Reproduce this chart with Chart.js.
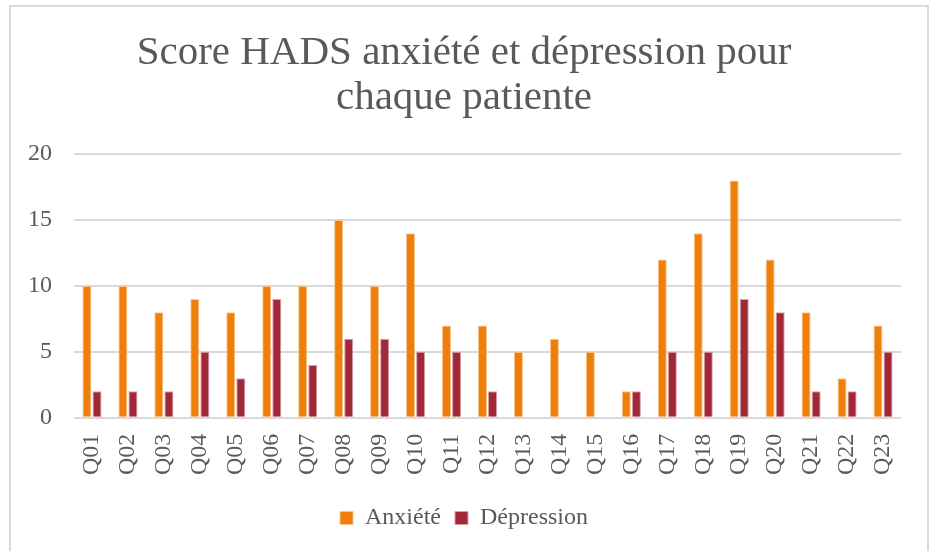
<!DOCTYPE html>
<html>
<head>
<meta charset="utf-8">
<script src="https://cdn.jsdelivr.net/npm/chart.js@4/dist/chart.umd.min.js"></script>
<style>
  html, body { margin: 0; padding: 0; background: #fff; }
  #frame {
    position: absolute;
    left: 9px; top: 5px;
    width: 920px; height: 560px;
    border: 2px solid #d9d9d9;
    box-sizing: border-box;
  }
  #wrap { position: absolute; left: 0; top: 0; width: 916px; height: 545px; }
</style>
</head>
<body>
<div id="frame"><div id="wrap"><canvas id="hadsChart"></canvas></div></div>
<script>
// patient labels and HADS scores
const patients = ["Q01","Q02","Q03","Q04","Q05","Q06","Q07","Q08","Q09","Q10","Q11","Q12",
  "Q13","Q14","Q15","Q16","Q17","Q18","Q19","Q20","Q21","Q22","Q23"];
const anxiete = [10, 10, 8, 9, 8, 10, 10, 15, 10, 14, 7, 7, 5, 6, 5, 2, 12, 14, 18, 12, 8, 3, 7];
const depression = [2, 2, 2, 5, 3, 9, 4, 6, 6, 5, 5, 2, 0, 0, 0, 2, 5, 5, 9, 8, 2, 2, 5];
const yTicks = [0, 5, 10, 15, 20];

const serif = "'Liberation Serif', 'DejaVu Serif', serif";
const grey = "#595959";

const data = {
  labels: patients,
  datasets: [
    {
      label: "Anxiété",
      data: anxiete,
      backgroundColor: "#ef7f0a",
      borderColor: "#f7c690",
      borderWidth: 1,
      categoryPercentage: 0.56,
      barPercentage: 0.9
    },
    {
      label: "Dépression",
      data: depression,
      backgroundColor: "#a12838",
      borderColor: "#d9a0a8",
      borderWidth: 1,
      categoryPercentage: 0.56,
      barPercentage: 0.9
    }
  ]
};

const config = {
  type: "bar",
  data,
  options: {
    responsive: true,
    maintainAspectRatio: false,
    animation: false,
    layout: { padding: { left: 16, right: 26, top: 10, bottom: 12 } },
    plugins: {
      title: {
        display: true,
        text: ["Score HADS anxiété et dépression pour", "chaque patiente"],
        color: grey,
        font: { family: serif, size: 41, weight: "normal", lineHeight: 1.1 },
        padding: { top: 14, bottom: 33 }
      },
      legend: {
        position: "bottom",
        labels: {
          color: grey,
          font: { family: serif, size: 24 },
          boxWidth: 13,
          boxHeight: 13,
          padding: 14,
          useBorderRadius: false
        }
      },
      tooltip: { enabled: false }
    },
    scales: {
      x: {
        grid: { display: false },
        border: { display: false },
        ticks: {
          color: grey,
          font: { family: serif, size: 24 },
          minRotation: 90,
          maxRotation: 90,
          padding: 8
        },
        afterFit: axis => { axis.height += 9; }
      },
      y: {
        min: 0,
        max: 20,
        afterBuildTicks: axis => { axis.ticks = yTicks.map(v => ({ value: v })); },
        afterFit: axis => { axis.width = 47; },
        grid: { color: "#d9d9d9", lineWidth: 2, drawTicks: false },
        border: { display: false },
        ticks: {
          color: grey,
          font: { family: serif, size: 24 },
          padding: 22
        }
      }
    }
  }
};

new Chart(document.getElementById("hadsChart"), config);
</script>
</body>
</html>
